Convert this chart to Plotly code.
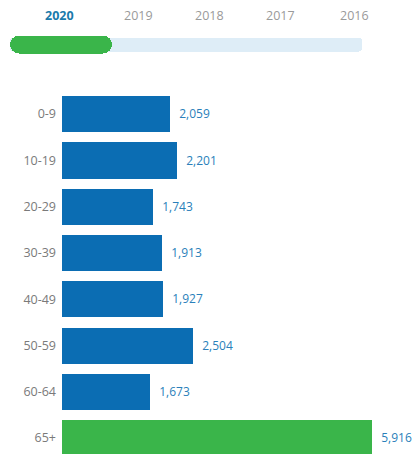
import plotly.graph_objects as go

# ---- data ----
age_groups = ["0-9", "10-19", "20-29", "30-39", "40-49", "50-59", "60-64", "65+"]
counts = [2059, 2201, 1743, 1913, 1927, 2504, 1673, 5916]
bar_colors = ["#0b6db3"] * 7 + ["#3ab54a"]
years = ["2020", "2019", "2018", "2017", "2016"]
selected_year = "2020"
slider_progress = 0.29
year_positions = [0.143, 0.333, 0.502, 0.672, 0.851]

W, H = 417, 454

fig = go.Figure()

# main bars
fig.add_trace(go.Bar(
    x=counts, y=age_groups, orientation="h",
    marker=dict(color=bar_colors, line=dict(width=0)),
    width=0.78,
    text=["  " + f"{v:,}" for v in counts],
    textposition="outside",
    textfont=dict(color="#2a7fba", size=12, family="Open Sans"),
    outsidetextfont=dict(color="#2a7fba", size=12, family="Open Sans"),
    cliponaxis=False,
    xaxis="x", yaxis="y",
    hoverinfo="skip",
))

# slider track
fig.add_trace(go.Bar(
    x=[1], y=[0], orientation="h", base=0,
    marker=dict(color="#deedf7", line=dict(width=0), cornerradius=3),
    width=0.72, xaxis="x2", yaxis="y2", hoverinfo="skip",
))
# slider progress
fig.add_trace(go.Bar(
    x=[slider_progress], y=[0], orientation="h", base=0,
    marker=dict(color="#3ab54a", line=dict(width=0), cornerradius="50%"),
    width=0.86, xaxis="x2", yaxis="y2", hoverinfo="skip",
))

annotations = []
for yr, xp in zip(years, year_positions):
    sel = yr == selected_year
    annotations.append(dict(
        text=f"<b>{yr}</b>" if sel else yr,
        x=xp, y=1 - 15 / H, xref="paper", yref="paper",
        xanchor="center", yanchor="middle", showarrow=False,
        font=dict(size=12.5, family="Open Sans",
                  color="#1a7aab" if sel else "#9a9a9a"),
    ))

fig.update_layout(
    width=W, height=H,
    margin=dict(l=0, r=0, t=0, b=0),
    paper_bgcolor="white", plot_bgcolor="white",
    barmode="overlay", bargap=0,
    showlegend=False,
    font=dict(family="Open Sans", color="#777777"),
    annotations=annotations,
    xaxis=dict(domain=[62 / W, 1], range=[0, 6775], visible=False, fixedrange=True),
    yaxis=dict(domain=[0, 1 - 90.85 / H], range=[7.343, -0.5],
               showgrid=False, zeroline=False, showline=False, ticks="",
               ticklabelstandoff=5,
               tickfont=dict(size=12.5, color="#7a7a7a", family="Open Sans")),
    xaxis2=dict(domain=[10 / W, 362 / W], range=[0, 1], visible=False,
                anchor="y2", fixedrange=True),
    yaxis2=dict(domain=[1 - 54.5 / H, 1 - 34.5 / H], range=[-0.5, 0.5],
                visible=False, anchor="x2", fixedrange=True),
)

fig.write_html("out.html")
